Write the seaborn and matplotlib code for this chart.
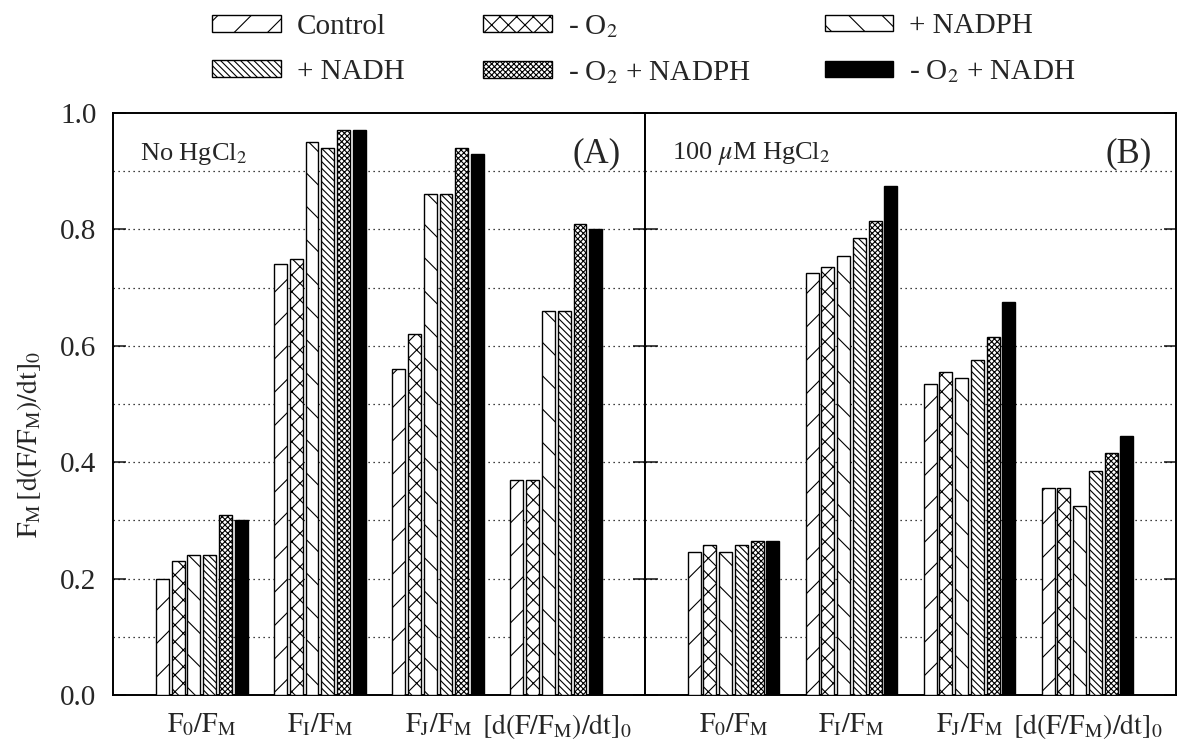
import matplotlib
matplotlib.use("Agg")
import matplotlib.pyplot as plt
import seaborn as sns
import pandas as pd
import numpy as np
from matplotlib.patches import Patch

conditions = ["Control", "- O$_2$", "+ NADPH", "+ NADH", "- O$_2$ + NADPH", "- O$_2$ + NADH"]
params = [r"$\mathrm{F_0/F_M}$", r"$\mathrm{F_I/F_M}$", r"$\mathrm{F_J/F_M}$", r"$\mathrm{[d(F/F_M)/dt]_0}$"]

# Panel A: No HgCl2 (rows = conditions, cols = params)
vals_A = {
    "Control":          [0.20, 0.74, 0.56, 0.37],
    "- O$_2$":          [0.23, 0.75, 0.62, 0.37],
    "+ NADPH":          [0.24, 0.95, 0.86, 0.66],
    "+ NADH":           [0.24, 0.94, 0.86, 0.66],
    "- O$_2$ + NADPH":  [0.31, 0.97, 0.94, 0.81],
    "- O$_2$ + NADH":   [0.30, 0.97, 0.93, 0.80],
}
# Panel B: 100 uM HgCl2
vals_B = {
    "Control":          [0.245, 0.725, 0.535, 0.355],
    "- O$_2$":          [0.257, 0.735, 0.555, 0.355],
    "+ NADPH":          [0.245, 0.755, 0.545, 0.325],
    "+ NADH":           [0.257, 0.785, 0.575, 0.385],
    "- O$_2$ + NADPH":  [0.265, 0.815, 0.615, 0.415],
    "- O$_2$ + NADH":   [0.265, 0.875, 0.675, 0.445],
}
yticks = [0.0, 0.2, 0.4, 0.6, 0.8, 1.0]
ytick_labels = ["0.0", "0.2", "0.4", "0.6", "0.8", "1.0"]

hatches = ["/", "xx", "\\", "\\\\\\\\\\", "xxxxxx", ""]
faces = ["white", "white", "white", "white", "white", "black"]

def to_df(d):
    rows = []
    for c in conditions:
        for p, v in zip(params, d[c]):
            rows.append({"param": p, "cond": c, "value": v})
    return pd.DataFrame(rows)

sns.set_theme(style="white")
plt.rcParams["font.family"] = ["Liberation Serif", "DejaVu Serif"]
plt.rcParams["mathtext.fontset"] = "stix"
plt.rcParams["hatch.linewidth"] = 0.8
plt.rcParams["hatch.color"] = "black"

fig = plt.figure(figsize=(11.85, 7.47), dpi=100)
axA = fig.add_axes([0.0954, 0.0696, 0.4489, 0.7791])
axB = fig.add_axes([0.5443, 0.0696, 0.4481, 0.7791])

for ax, d, lab, tag in [(axA, vals_A, "No HgCl$_2$", "(A)"), (axB, vals_B, r"100 $\mu$M HgCl$_2$", "(B)")]:
    df = to_df(d)
    sns.barplot(data=df, x="param", y="value", hue="cond", hue_order=conditions,
                order=params, palette=["white"] * 6, width=0.8, gap=0.18,
                edgecolor="black", linewidth=1.0, ax=ax, legend=False, zorder=3)
    for i, cont in enumerate(ax.containers):
        for bar in cont:
            bar.set_hatch(hatches[i])
            bar.set_facecolor(faces[i])
            bar.set_edgecolor("black")
    ax.set_xlim(-0.75, 3.75)
    ax.set_ylim(0, 1.0)
    ax.set_yticks(yticks)
    for g in np.arange(0.1, 1.0, 0.1):
        ax.axhline(g, color="black", lw=0.9, ls=(0, (1, 3)), zorder=1)
    ax.tick_params(axis="y", direction="in", length=9, width=1.2, left=True, right=True)
    ax.tick_params(axis="x", length=0, pad=12, labelsize=20)
    ax.set_xlabel("")
    ax.set_ylabel("")
    for s in ax.spines.values():
        s.set_linewidth(1.4)
        s.set_color("black")
    ax.text(0.05, 0.93, lab, transform=ax.transAxes, fontsize=19, va="center", ha="left")
    ax.text(0.955, 0.93, tag, transform=ax.transAxes, fontsize=25, va="center", ha="right")

axA.set_yticklabels(ytick_labels, fontsize=21)
axA.tick_params(axis="y", pad=12)
axB.set_yticklabels([])
axA.set_ylabel(r"$\mathrm{F_M\,[d(F/F_M)/dt]_0}$", fontsize=20)
axA.yaxis.set_label_coords(-0.13, 0.43)

# legend: three columns, each its own legend
handles = [Patch(facecolor=faces[i], edgecolor="black", hatch=hatches[i], lw=1.0, label=conditions[i])
           for i in range(6)]
col_x = [0.179, 0.4076, 0.696]
for k, (i1, i2) in enumerate([(0, 3), (1, 4), (2, 5)]):
    fig.legend([handles[i1], handles[i2]], [conditions[i1], conditions[i2]],
               loc="center left", bbox_to_anchor=(col_x[k], 0.934), frameon=False,
               fontsize=21, handlelength=2.35, handleheight=0.5,
               labelspacing=0.65, handletextpad=0.55, borderpad=0, borderaxespad=0)

fig.savefig("out.png", dpi=100)
